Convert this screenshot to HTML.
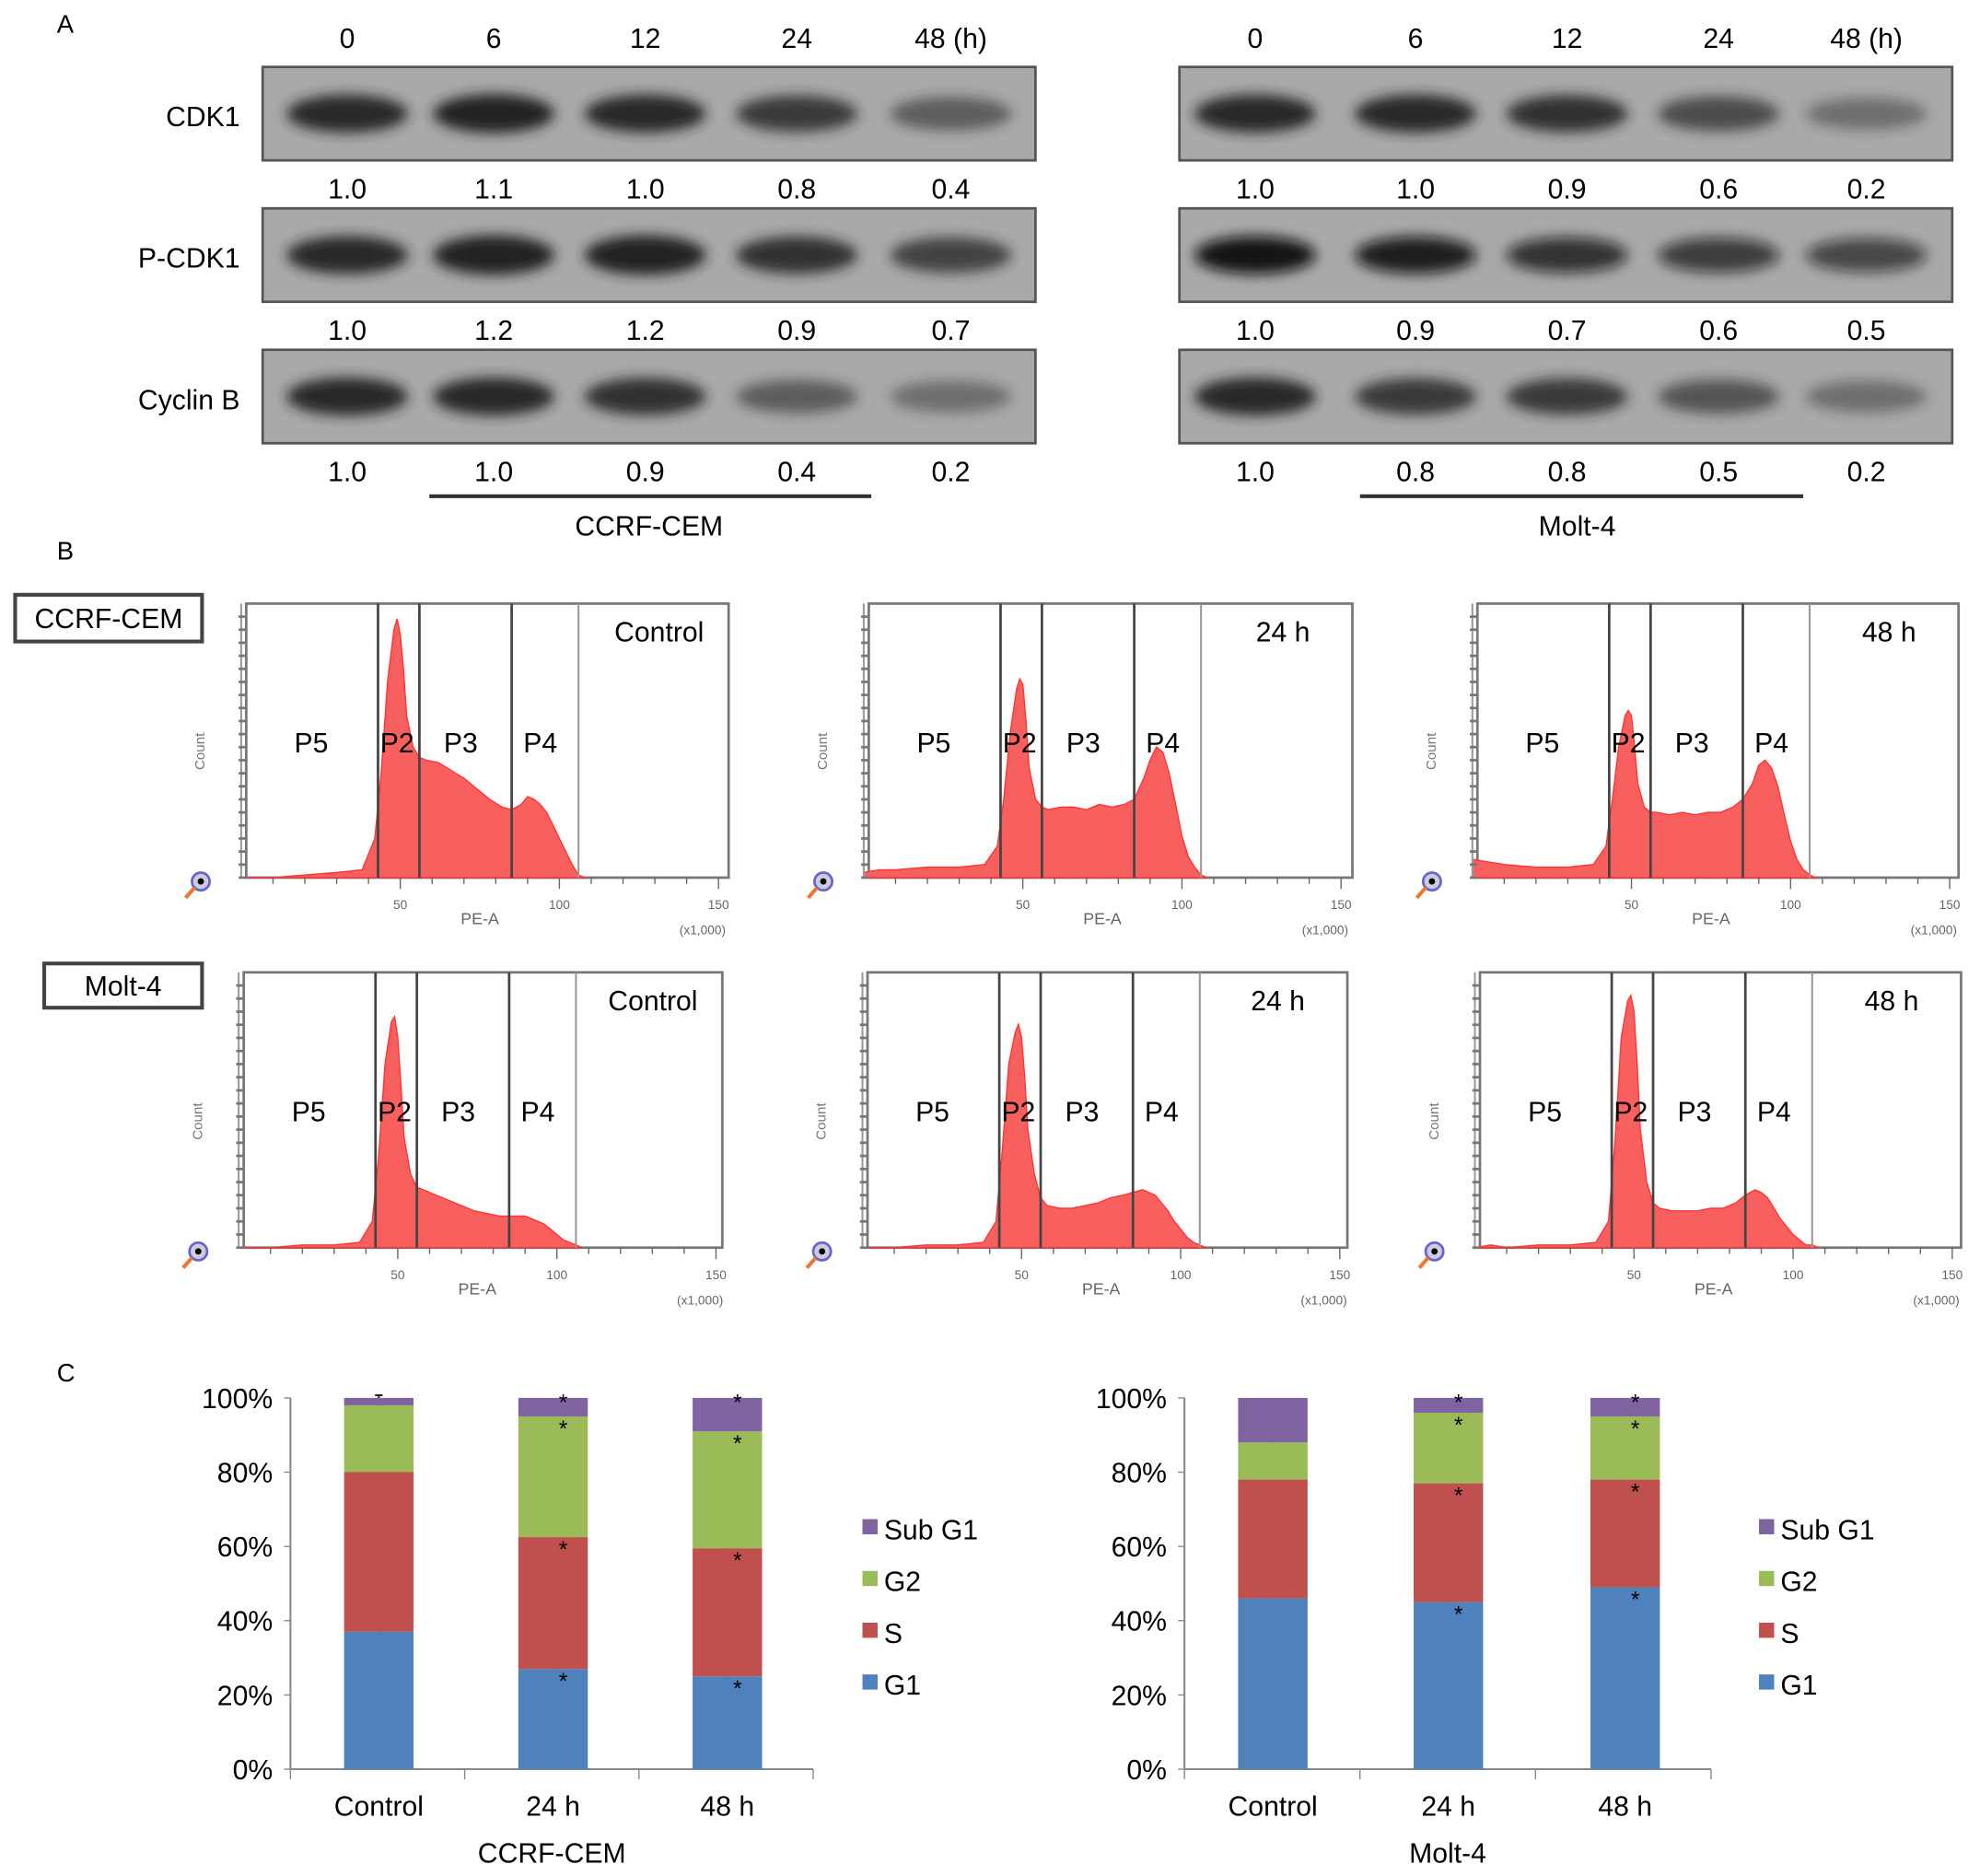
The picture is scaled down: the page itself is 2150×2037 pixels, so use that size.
<!DOCTYPE html>
<html><head><meta charset="utf-8">
<style>
html,body{margin:0;padding:0;background:#fff;}
svg{display:block;font-family:"Liberation Sans",Arial,sans-serif;}
</style></head>
<body>
<svg id="fig" width="2150" height="2037" viewBox="0 0 1568 1485.6" xmlns="http://www.w3.org/2000/svg">
<defs>
<filter id="blur" x="-30%" y="-80%" width="160%" height="260%"><feGaussianBlur stdDeviation="5"/></filter>
</defs>
<g id="root"></g>
</svg>
<script>
// ---------- Panel A data ----------
const blotTimes = ["0","6","12","24","48 (h)"];
const blotRows = ["CDK1","P-CDK1","Cyclin B"];
const cemCDK1 = [1.0,1.1,1.0,0.8,0.4];
const cemPCDK1 = [1.0,1.2,1.2,0.9,0.7];
const cemCyclinB = [1.0,1.0,0.9,0.4,0.2];
const moltCDK1 = [1.0,1.0,0.9,0.6,0.2];
const moltPCDK1 = [1.0,0.9,0.7,0.6,0.5];
const moltCyclinB = [1.0,0.8,0.8,0.5,0.2];
// ---------- Panel B data (PE-A x1000 positions and relative counts) ----------
const histX = [0,5,10,20,30,38,42,44,46,48,49,50,51,52,54,56,58,62,66,70,74,78,82,85,88,90,92,94,96,98,100,102,104,106,108];
const cemControl = [0,0,0,0.01,0.02,0.03,0.15,0.4,0.75,0.95,0.99,0.93,0.8,0.62,0.5,0.46,0.45,0.44,0.41,0.38,0.34,0.3,0.27,0.26,0.28,0.31,0.3,0.28,0.25,0.2,0.15,0.1,0.05,0.01,0];
const cem24h = [0.02,0.03,0.03,0.04,0.04,0.05,0.12,0.3,0.55,0.72,0.76,0.74,0.6,0.42,0.3,0.27,0.26,0.27,0.27,0.26,0.28,0.27,0.28,0.3,0.38,0.45,0.5,0.48,0.4,0.28,0.16,0.08,0.04,0.01,0];
const cem48h = [0.07,0.06,0.05,0.04,0.04,0.05,0.12,0.3,0.5,0.62,0.64,0.62,0.5,0.36,0.27,0.25,0.25,0.24,0.25,0.24,0.25,0.25,0.27,0.3,0.36,0.43,0.45,0.42,0.35,0.24,0.14,0.07,0.03,0.01,0];
const moltControl = [0,0,0,0.01,0.01,0.02,0.1,0.35,0.7,0.86,0.88,0.8,0.62,0.42,0.28,0.23,0.22,0.2,0.18,0.16,0.14,0.13,0.12,0.12,0.12,0.12,0.11,0.1,0.09,0.07,0.05,0.03,0.02,0.01,0];
const molt24h = [0,0,0,0.01,0.01,0.02,0.1,0.38,0.7,0.82,0.85,0.8,0.65,0.45,0.28,0.19,0.16,0.15,0.15,0.16,0.17,0.19,0.2,0.21,0.22,0.21,0.2,0.17,0.14,0.1,0.07,0.04,0.02,0.01,0];
const molt48h = [0,0.01,0,0.01,0.01,0.02,0.1,0.4,0.8,0.94,0.96,0.9,0.7,0.45,0.25,0.17,0.15,0.14,0.14,0.14,0.15,0.15,0.17,0.2,0.22,0.21,0.19,0.15,0.11,0.08,0.05,0.03,0.01,0.01,0];
const gates = [43,56,85,106];
const gateNames = ["P5","P2","P3","P4"];
const gateLabelX = [22,49,69,94];
const peTicks = [50,100,150];
// ---------- Panel C data ----------
const phaseCats = ["Control","24 h","48 h"];
const phases = ["G1","S","G2","Sub G1"];
const cemG1 = [37,27,25];
const cemS = [43,35.5,34.5];
const cemG2 = [18,32.5,31.5];
const cemSub = [2,5,9];
const moltG1 = [46,45,49];
const moltS = [32,32,29];
const moltG2 = [10,19,17];
const moltSub = [12,4,5];
const pctTicks = [0,20,40,60,80,100];

const NS="http://www.w3.org/2000/svg";
const root=document.getElementById('root');
function mk(tag,attrs,parent,text){const e=document.createElementNS(NS,tag);for(const k in attrs)e.setAttribute(k,attrs[k]);if(text!==undefined)e.textContent=text;(parent||root).appendChild(e);return e;}

let t;
t=mk('text',{x:45,y:26,'font-size':20},root,'A');


t=mk('text',{x:45,y:443,'font-size':20},root,'B');


t=mk('text',{x:45,y:1094,'font-size':20},root,'C');



// ---------- Panel A ----------
function blotPanel(x0,lanes,rowsVals,name,labelX,underline){
  const g=mk('g',{});
  
  
  blotTimes.forEach((tt,i)=>{const e=mk('text',{x:lanes[i],y:38,'font-size':22,'text-anchor':'middle'},g,tt);
    
    });
  const tops=[53,165,277];
  rowsVals.forEach((vals,r)=>{
    const y=tops[r];
    const rect=mk('rect',{x:x0,y:y,width:612,height:74,fill:'#a9a9a9',stroke:'#555','stroke-width':2},g);
    
    
    vals.forEach((v,i)=>{
      const op=Math.min(1,0.3+0.65*v);
      const dark=r===1&&name==='molt-4'?'#0a0a0a':'#222';
      const b=mk('ellipse',{cx:lanes[i],cy:y+37,rx:48,ry:12+3*v,fill:dark,opacity:op,filter:'url(#blur)'},g);
      
      
      const n=mk('text',{x:lanes[i],y:y+104,'font-size':22,'text-anchor':'middle'},g,v.toFixed(1));
      
      
    });
  });
  const ul=mk('line',{x1:underline[0],x2:underline[1],y1:393,y2:393,stroke:'#333','stroke-width':3},g);
  
  
  const cl=mk('text',{x:labelX,y:424,'font-size':22,'text-anchor':'middle'},g,name==='molt-4'?'Molt-4':'CCRF-CEM');
  
  
}
[["CDK1",100],["P-CDK1",212],["Cyclin B",324]].forEach(([l,y])=>{
  const e=mk('text',{x:190,y:y,'font-size':22,'text-anchor':'end'},root,l);
  
  
});
blotPanel(208,[275,391,511,631,753],[cemCDK1,cemPCDK1,cemCyclinB],'ccrf-cem',514,[340,690]);
blotPanel(934,[994,1121,1241,1361,1478],[moltCDK1,moltPCDK1,moltCyclinB],'molt-4',1249,[1077,1428]);

// ---------- Panel B ----------
function flowPlot(fx,fy,fw,fh,data,label,name){
  const g=mk('g',{});
  
  
  const x0=fx-4, sx=2.52;
  const X=v=>x0+v*sx, Y=v=>fy+fh-v*(fh-10);
  mk('rect',{x:fx,y:fy,width:fw,height:fh,fill:'#fff',stroke:'#777','stroke-width':2},g);
  let d='M'+X(histX[0])+','+Y(0);
  histX.forEach((xv,i)=>{d+=' L'+X(xv).toFixed(1)+','+Y(data[i]).toFixed(1);});
  d+=' L'+X(histX[histX.length-1])+','+Y(0)+' Z';
  const p=mk('path',{d:d,fill:'#f86060',stroke:'#f33','stroke-width':1},g);
  
  
  gates.forEach((gv,i)=>{
    const l=mk('line',{x1:X(gv),x2:X(gv),y1:fy,y2:fy+fh,stroke:i===3?'#999':'#444','stroke-width':i===3?1.5:2},g);
    
    
  });
  mk('line',{x1:X(0),x2:X(0),y1:fy,y2:fy+fh,stroke:'#999','stroke-width':1.5},g);
  gateNames.forEach((n,i)=>{
    const e=mk('text',{x:X(gateLabelX[i]),y:fy+118,'font-size':22,'text-anchor':'middle'},g,n);
    
    
  });
  const tl=mk('text',{x:fx+fw-55,y:fy+30,'font-size':22,'text-anchor':'middle'},g,label);
  
  
  for(let v=10;v<=150;v+=10){mk('line',{x1:X(v),x2:X(v),y1:fy+fh,y2:fy+fh+(v%50?5:9),stroke:'#666','stroke-width':1},g);}
  for(let k=0;k<=20;k++){mk('line',{x1:fx-6,x2:fx,y1:fy+fh-k*fh/21,y2:fy+fh-k*fh/21,stroke:'#777','stroke-width':2},g);}
  peTicks.forEach(v=>{const e=mk('text',{x:X(v),y:fy+fh+25,'font-size':10,'text-anchor':'middle',fill:'#666'},g,String(v));
    
    });
  let e=mk('text',{x:X(75),y:fy+fh+37,'font-size':13,'text-anchor':'middle',fill:'#666'},g,'PE-A');
  
  
  e=mk('text',{x:X(145),y:fy+fh+45,'font-size':10,'text-anchor':'middle',fill:'#666'},g,'(x1,000)');
  
  
  e=mk('text',{x:0,y:0,'font-size':11,'text-anchor':'middle',fill:'#777',transform:'translate('+(fx-33)+','+(fy+fh-100)+') rotate(-90)'},g,'Count');
  
  
  mk('circle',{cx:fx-36,cy:fy+fh+3,r:7,fill:'#ccd',stroke:'#66c','stroke-width':2},g);
  mk('circle',{cx:fx-36,cy:fy+fh+3,r:2.5,fill:'#000'},g);
  mk('line',{x1:fx-41,y1:fy+fh+8,x2:fx-48,y2:fy+fh+16,stroke:'#e73','stroke-width':3},g);
}
function cellBox(x,y,w,h,txt,name){
  const r=mk('rect',{x:x,y:y,width:w,height:h,fill:'#fff',stroke:'#444','stroke-width':3});
  
  
  const e=mk('text',{x:x+w/2,y:y+h/2+8,'font-size':22,'text-anchor':'middle'},root,txt);
  
  
}
flowPlot(195,478,382,217,cemControl,'Control','ccrf-cem-control');
flowPlot(688,478,383,217,cem24h,'24 h','ccrf-cem-24h');
flowPlot(1170,478,381,217,cem48h,'48 h','ccrf-cem-48h');
flowPlot(193,770,379,218,moltControl,'Control','molt-4-control');
flowPlot(687,770,380,218,molt24h,'24 h','molt-4-24h');
flowPlot(1172,770,381,218,molt48h,'48 h','molt-4-48h');
cellBox(12,471,148,37,'CCRF-CEM','ccrf-cem-label-box');
cellBox(35,763,125,35,'Molt-4','molt-4-label-box');

// ---------- Panel C ----------
const phaseColors=['#4f81bd','#c0504d','#9bbb59','#8064a2'];
function stackChart(ax,bars,series,title,legX,name){
  const g=mk('g',{});
  
  
  const y0=1401,y1=1107;
  const Y=v=>y0-(v/100)*(y0-y1);
  mk('line',{x1:ax,x2:ax,y1:y1,y2:y0,stroke:'#888','stroke-width':1.5},g);
  pctTicks.forEach(v=>{
    mk('line',{x1:ax-5,x2:ax,y1:Y(v),y2:Y(v),stroke:'#888'},g);
    const e=mk('text',{x:ax-14,y:Y(v)+8,'font-size':22,'text-anchor':'end'},g,v+'%');
    
    
  });
  const step=(bars[1]-bars[0]);
  const axEnd=ax+3*step;
  mk('line',{x1:ax,x2:axEnd,y1:y0,y2:y0,stroke:'#888','stroke-width':1.5},g);
  for(let i=0;i<=3;i++)mk('line',{x1:ax+i*step,x2:ax+i*step,y1:y0,y2:y0+8,stroke:'#888'},g);
  phaseCats.forEach((c,i)=>{
    let cum=0;
    series.forEach((s,k)=>{
      const v=s[i];
      const r=mk('rect',{x:bars[i]-27.5,y:Y(cum+v),width:55,height:Y(cum)-Y(cum+v),fill:phaseColors[k]},g);
      
      
      cum+=v;
      if(k<3){
        const ey=Y(cum);
        mk('line',{x1:bars[i],x2:bars[i],y1:ey-8,y2:ey,stroke:'#222','stroke-width':1.5},g);
        mk('line',{x1:bars[i]-3,x2:bars[i]+3,y1:ey-8,y2:ey-8,stroke:'#222','stroke-width':1.5},g);
        if(i>0){const st=mk('text',{x:bars[i]+8,y:ey+16,'font-size':18,'text-anchor':'middle'},g,'*');
          
          }
      }
    });
    if(i>0){const st=mk('text',{x:bars[i]+8,y:Y(100)+10,'font-size':18,'text-anchor':'middle'},g,'*');
      
      }
    const e=mk('text',{x:bars[i],y:1438,'font-size':22,'text-anchor':'middle'},g,c);
    
    
  });
  const e=mk('text',{x:(ax+axEnd)/2,y:1475,'font-size':22,'text-anchor':'middle'},g,title);
  
  
  const legY=[1334,1293,1252,1211];
  phases.forEach((p,k)=>{
    const lg=mk('g',{},g);
    
    
    mk('rect',{x:legX,y:legY[k]-8,width:12,height:12,fill:phaseColors[k]},lg);
    mk('text',{x:legX+17,y:legY[k]+8,'font-size':22},lg,p);
  });
}
stackChart(230,[300,438,576],[cemG1,cemS,cemG2,cemSub],'CCRF-CEM',683,'ccrf-cem');
stackChart(938,[1008,1147,1287],[moltG1,moltS,moltG2,moltSub],'Molt-4',1393,'molt-4');
</script>
</body></html>
